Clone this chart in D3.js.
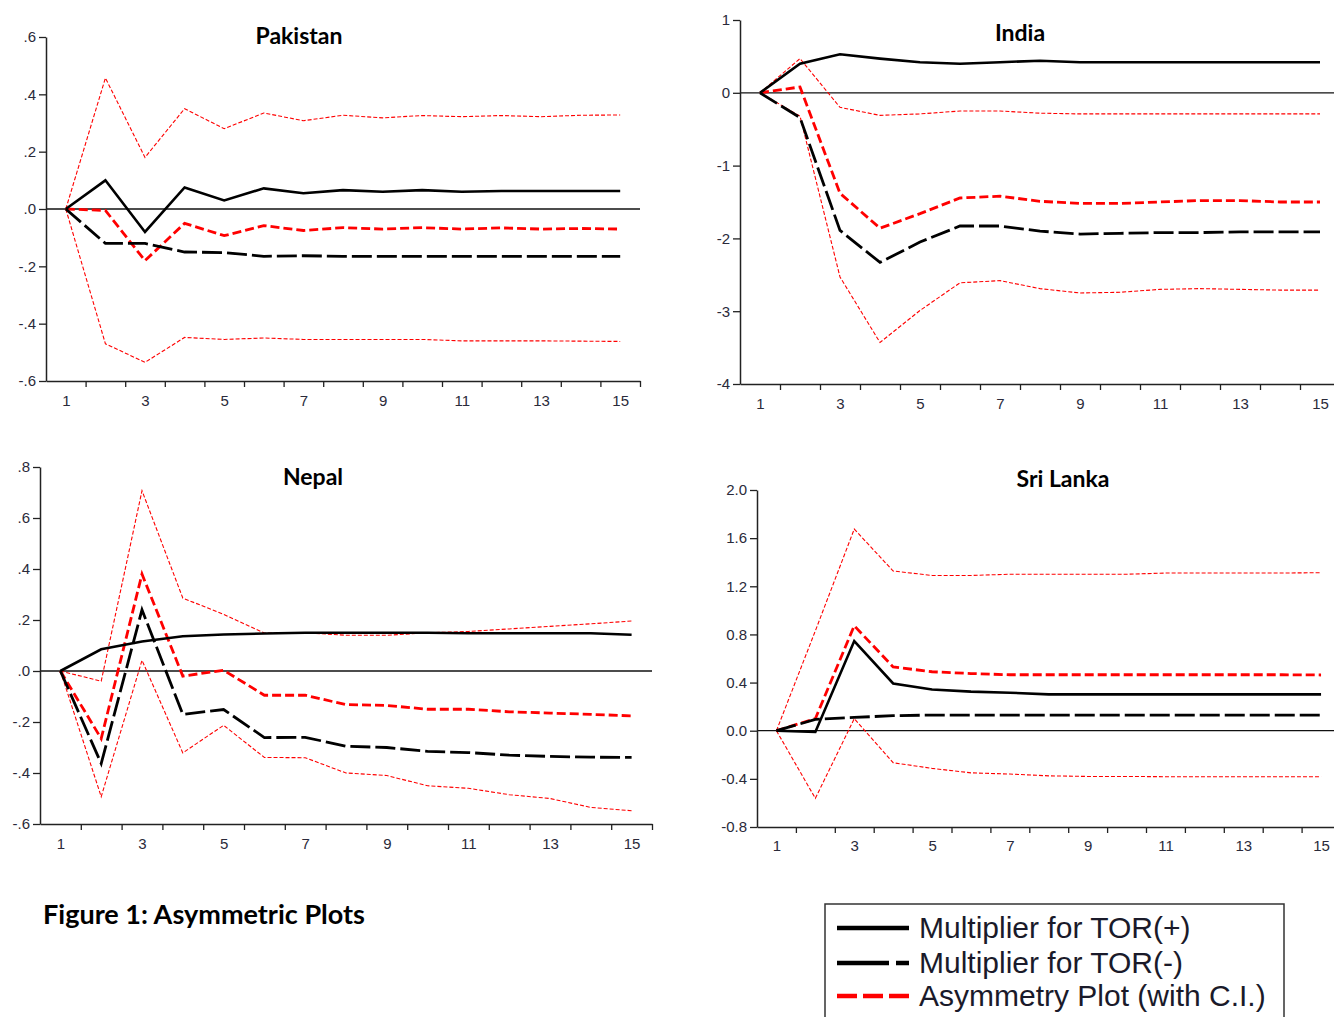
<!DOCTYPE html>
<html>
<head>
<meta charset="utf-8">
<script src="https://cdn.jsdelivr.net/npm/d3@7"></script>
<style>
  html, body { margin: 0; padding: 0; background: #fff; }
  svg { display: block; }
</style>
</head>
<body>
<svg id="chart" width="1334" height="1017"></svg>
<script>
// ---------------- DATA ----------------
const periods = [1, 2, 3, 4, 5, 6, 7, 8, 9, 10, 11, 12, 13, 14, 15];
const xTickLabels = [1, 3, 5, 7, 9, 11, 13, 15];
const seriesNames = ["Multiplier for TOR(+)", "Multiplier for TOR(-)", "Asymmetry Plot (with C.I.)"];
const captionText = "Figure 1: Asymmetric Plots";

// Pakistan
const pakistanTorPos = [0, 0.10, -0.08, 0.075, 0.03, 0.072, 0.055, 0.066, 0.06, 0.066, 0.06, 0.063, 0.063, 0.063, 0.063];
const pakistanTorNeg = [0, -0.12, -0.12, -0.15, -0.152, -0.165, -0.163, -0.165, -0.165, -0.165, -0.165, -0.165, -0.165, -0.165, -0.165];
const pakistanAsym   = [0, -0.005, -0.18, -0.05, -0.093, -0.058, -0.075, -0.065, -0.07, -0.065, -0.07, -0.066, -0.07, -0.068, -0.07];
const pakistanUpper  = [0, 0.457, 0.18, 0.35, 0.28, 0.335, 0.308, 0.327, 0.318, 0.326, 0.322, 0.326, 0.322, 0.327, 0.328];
const pakistanLower  = [0, -0.47, -0.535, -0.448, -0.455, -0.45, -0.455, -0.455, -0.455, -0.455, -0.46, -0.46, -0.46, -0.461, -0.462];
const pakistanYTicks = [0.6, 0.4, 0.2, 0.0, -0.2, -0.4, -0.6];
const pakistanYTickLabels = [".6", ".4", ".2", ".0", "-.2", "-.4", "-.6"];

// India
const indiaTorPos = [0, 0.40, 0.53, 0.47, 0.42, 0.40, 0.42, 0.44, 0.42, 0.42, 0.42, 0.42, 0.42, 0.42, 0.42];
const indiaTorNeg = [0, -0.34, -1.89, -2.33, -2.05, -1.83, -1.83, -1.90, -1.94, -1.93, -1.92, -1.92, -1.91, -1.91, -1.91];
const indiaAsym   = [0, 0.08, -1.38, -1.86, -1.66, -1.445, -1.42, -1.49, -1.52, -1.52, -1.50, -1.48, -1.48, -1.50, -1.50];
const indiaUpper  = [0, 0.47, -0.20, -0.31, -0.29, -0.25, -0.25, -0.28, -0.29, -0.29, -0.29, -0.29, -0.29, -0.29, -0.29];
const indiaLower  = [0, -0.32, -2.53, -3.43, -2.99, -2.61, -2.58, -2.69, -2.75, -2.74, -2.70, -2.69, -2.70, -2.71, -2.71];
const indiaYTicks = [1, 0, -1, -2, -3, -4];
const indiaYTickLabels = ["1", "0", "-1", "-2", "-3", "-4"];

// Nepal
const nepalTorPos = [0, 0.085, 0.116, 0.136, 0.143, 0.147, 0.15, 0.15, 0.15, 0.15, 0.148, 0.148, 0.148, 0.148, 0.142];
const nepalTorNeg = [0, -0.363, 0.24, -0.17, -0.151, -0.261, -0.26, -0.295, -0.30, -0.315, -0.32, -0.33, -0.335, -0.338, -0.339];
const nepalAsym   = [0, -0.265, 0.38, -0.02, 0.003, -0.095, -0.095, -0.132, -0.135, -0.15, -0.15, -0.16, -0.165, -0.17, -0.176];
const nepalUpper  = [0, -0.04, 0.707, 0.286, 0.222, 0.149, 0.15, 0.14, 0.14, 0.15, 0.155, 0.165, 0.175, 0.185, 0.196];
const nepalLower  = [0, -0.493, 0.042, -0.321, -0.213, -0.339, -0.34, -0.40, -0.41, -0.45, -0.46, -0.485, -0.50, -0.535, -0.548];
const nepalYTicks = [0.8, 0.6, 0.4, 0.2, 0.0, -0.2, -0.4, -0.6];
const nepalYTickLabels = [".8", ".6", ".4", ".2", ".0", "-.2", "-.4", "-.6"];

// Sri Lanka
const sriLankaTorPos = [0, -0.01, 0.745, 0.393, 0.343, 0.325, 0.316, 0.302, 0.302, 0.302, 0.302, 0.302, 0.302, 0.302, 0.302];
const sriLankaTorNeg = [0, 0.094, 0.11, 0.125, 0.13, 0.13, 0.13, 0.13, 0.13, 0.13, 0.13, 0.13, 0.13, 0.13, 0.13];
const sriLankaAsym   = [0, 0.10, 0.872, 0.53, 0.49, 0.475, 0.465, 0.465, 0.465, 0.465, 0.465, 0.465, 0.465, 0.465, 0.463];
const sriLankaUpper  = [0, 0.83, 1.675, 1.327, 1.29, 1.29, 1.30, 1.30, 1.30, 1.30, 1.31, 1.31, 1.31, 1.31, 1.313];
const sriLankaLower  = [0, -0.562, 0.10, -0.266, -0.313, -0.35, -0.36, -0.375, -0.38, -0.38, -0.382, -0.382, -0.382, -0.382, -0.382];
const sriLankaYTicks = [2.0, 1.6, 1.2, 0.8, 0.4, 0.0, -0.4, -0.8];
const sriLankaYTickLabels = ["2.0", "1.6", "1.2", "0.8", "0.4", "0.0", "-0.4", "-0.8"];

// ---------------- LAYOUT ----------------
const panels = [
  { title: "Pakistan", torPos: pakistanTorPos, torNeg: pakistanTorNeg, asym: pakistanAsym, upper: pakistanUpper, lower: pakistanLower,
    yTicks: pakistanYTicks, yLabels: pakistanYTickLabels,
    x0: 46, step: 39.6, yTop: 37, yBot: 381, titleX: 299, titleY: 44, labelY: 406 },
  { title: "India", torPos: indiaTorPos, torNeg: indiaTorNeg, asym: indiaAsym, upper: indiaUpper, lower: indiaLower,
    yTicks: indiaYTicks, yLabels: indiaYTickLabels,
    x0: 740, step: 40, yTop: 20, yBot: 384, titleX: 1020, titleY: 41, labelY: 409 },
  { title: "Nepal", torPos: nepalTorPos, torNeg: nepalTorNeg, asym: nepalAsym, upper: nepalUpper, lower: nepalLower,
    yTicks: nepalYTicks, yLabels: nepalYTickLabels,
    x0: 40, step: 40.8, yTop: 467, yBot: 824, titleX: 313, titleY: 485, labelY: 849 },
  { title: "Sri Lanka", torPos: sriLankaTorPos, torNeg: sriLankaTorNeg, asym: sriLankaAsym, upper: sriLankaUpper, lower: sriLankaLower,
    yTicks: sriLankaYTicks, yLabels: sriLankaYTickLabels,
    x0: 757, step: 38.9, yTop: 490, yBot: 827, titleX: 1063, titleY: 487, labelY: 851 }
];

const svg = d3.select("#chart");
const tickFont = "Liberation Sans, Arial, sans-serif";
const titleFont = "Lato, 'Open Sans', sans-serif";

const styles = {
  upper:  { stroke: "#ff0000", width: 1.1, dash: "4,2" },
  lower:  { stroke: "#ff0000", width: 1.1, dash: "4,2" },
  asym:   { stroke: "#ff0000", width: 2.8, dash: "9,4" },
  torNeg: { stroke: "#000000", width: 2.8, dash: "20,5" },
  torPos: { stroke: "#000000", width: 2.6, dash: null }
};

panels.forEach(p => {
  const g = svg.append("g");
  const x = d3.scaleLinear().domain([0.5, 15.5]).range([p.x0, p.x0 + 15 * p.step]);
  const yMin = d3.min(p.yTicks), yMax = d3.max(p.yTicks);
  const y = d3.scaleLinear().domain([yMin, yMax]).range([p.yBot, p.yTop]);

  // zero line
  g.append("line")
    .attr("x1", x(0.5)).attr("x2", x(15.5))
    .attr("y1", y(0)).attr("y2", y(0))
    .attr("stroke", "#111").attr("stroke-width", 1.3);

  // y axis
  const yAxis = g.append("g").attr("transform", `translate(${x(0.5)},0)`)
    .call(d3.axisLeft(y).tickValues(p.yTicks).tickFormat((d, i) => p.yLabels[i]).tickSize(7).tickSizeOuter(0).tickPadding(3));
  yAxis.select(".domain").attr("stroke", "#222").attr("stroke-width", 1.5);
  yAxis.selectAll(".tick line").attr("stroke", "#222").attr("stroke-width", 1.3);
  yAxis.selectAll("text").attr("font-family", tickFont).attr("font-size", 15).attr("fill", "#2a2a3a");

  // x axis (ticks at period boundaries)
  const boundaries = periods.map(d => d + 0.5);
  const xAxis = g.append("g").attr("transform", `translate(0,${p.yBot})`)
    .call(d3.axisBottom(x).tickValues(boundaries).tickFormat("").tickSize(6).tickSizeOuter(0));
  xAxis.select(".domain").attr("stroke", "#222").attr("stroke-width", 1.5);
  xAxis.selectAll(".tick line").attr("stroke", "#222").attr("stroke-width", 1.3);

  // x labels at odd periods
  const xLab = g.append("g").attr("transform", `translate(0,${p.yBot})`)
    .call(d3.axisBottom(x).tickValues(xTickLabels).tickFormat(d3.format("d")).tickSize(0).tickPadding(p.labelY - p.yBot - 11));
  xLab.select(".domain").remove();
  xLab.selectAll("text").attr("font-family", tickFont).attr("font-size", 15).attr("fill", "#2a2a3a");

  // series lines
  const line = d3.line().x((d, i) => x(periods[i])).y(d => y(d));
  ["upper", "lower", "asym", "torNeg", "torPos"].forEach(key => {
    const s = styles[key];
    g.append("path")
      .datum(p[key])
      .attr("d", line)
      .attr("fill", "none")
      .attr("stroke", s.stroke)
      .attr("stroke-width", s.width)
      .attr("stroke-dasharray", s.dash)
      .attr("stroke-linejoin", "miter");
  });

  // title
  g.append("text")
    .attr("x", p.titleX).attr("y", p.titleY)
    .attr("text-anchor", "middle")
    .attr("font-family", titleFont).attr("font-weight", "bold").attr("font-size", 23)
    .attr("fill", "#000")
    .text(p.title);
});

// caption
svg.append("text")
  .attr("x", 43).attr("y", 924)
  .attr("font-family", titleFont).attr("font-weight", "bold").attr("font-size", 26)
  .attr("textLength", 322).attr("lengthAdjust", "spacingAndGlyphs")
  .attr("fill", "#000")
  .text(captionText);

// legend
const lg = svg.append("g");
lg.append("rect")
  .attr("x", 825).attr("y", 904).attr("width", 459).attr("height", 130)
  .attr("fill", "#fff").attr("stroke", "#333").attr("stroke-width", 1.5);

const legendRows = [
  { name: seriesNames[0], y: 928, stroke: "#000", dash: null },
  { name: seriesNames[1], y: 963, stroke: "#000", dash: "52,7,13" },
  { name: seriesNames[2], y: 996, stroke: "#ff0000", dash: "20,6" }
];
legendRows.forEach(r => {
  lg.append("line")
    .attr("x1", 837).attr("x2", 909).attr("y1", r.y).attr("y2", r.y)
    .attr("stroke", r.stroke).attr("stroke-width", 4.5)
    .attr("stroke-dasharray", r.dash);
  lg.append("text")
    .attr("x", 919).attr("y", r.y + 10)
    .attr("font-family", tickFont).attr("font-size", 30)
    .attr("fill", "#1a1a2a")
    .text(r.name);
});
</script>
</body>
</html>
